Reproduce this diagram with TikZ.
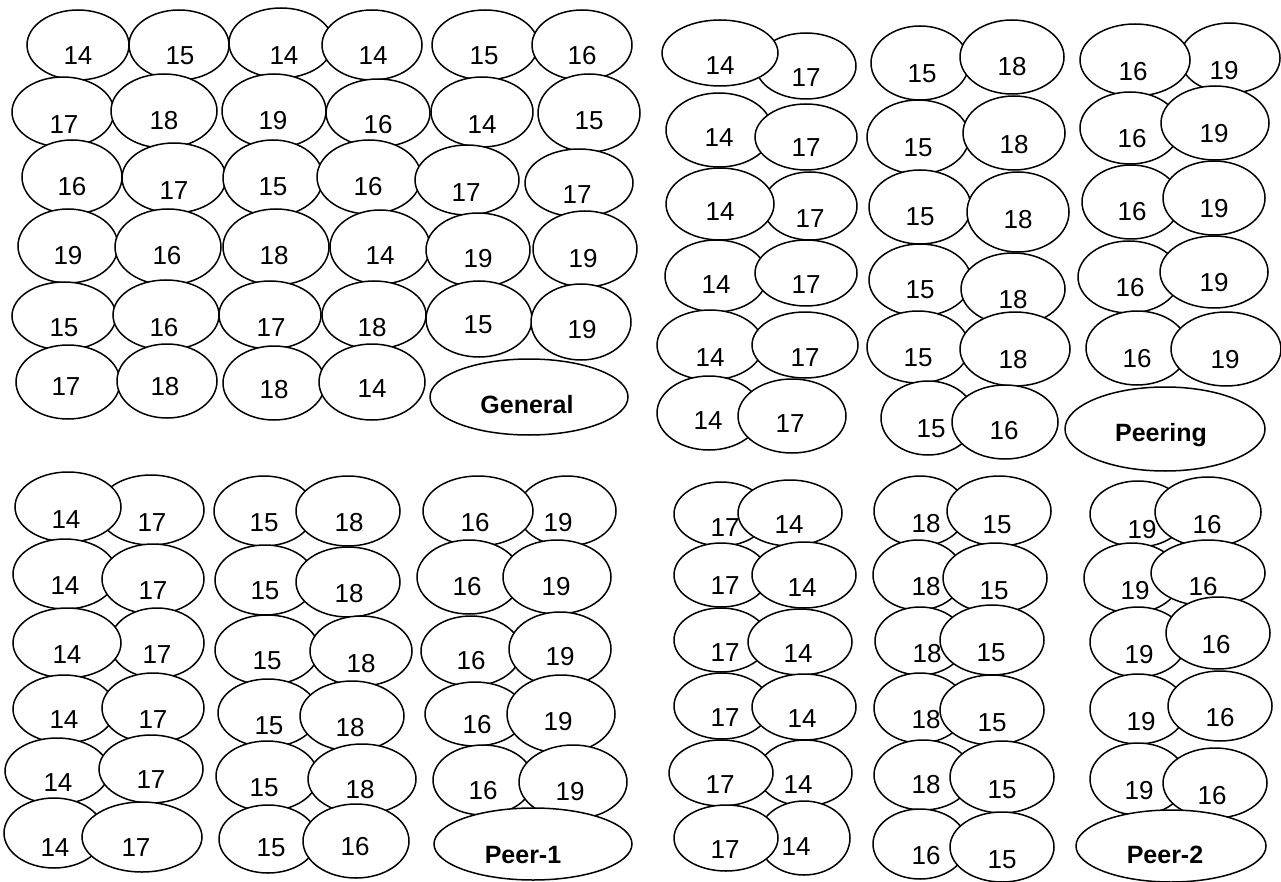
\documentclass[tikz,border=0pt]{standalone}
\usepackage{fontspec}
\setmainfont{Liberation Sans}
\usetikzlibrary{shapes.geometric}
\newfontfamily\numfam{Liberation Sans}
\newcommand\numfont{\numfam\fontsize{26}{26}\selectfont}
\newcommand\labfont{\numfam\bfseries\fontsize{25}{25}\selectfont}
\tikzset{
  ell/.style={draw, ellipse, fill=white, line width=1.5pt, inner sep=0pt},
  num/.style={font=\numfont, inner sep=0pt},
  lab/.style={font=\labfont, inner sep=0pt}
}
% \E{name}{cx}{cy}{rx}{ry}{tx}{ty}{text}
\newcommand\E[8]{%
  \node[ell, minimum width=#4*2pt, minimum height=#5*2pt] (#1) at (#2,#3) {};
  \node[num] (#1t) at (#6,#7) {#8};
}
\newcommand\Lab[8]{%
  \node[ell, minimum width=#4*2pt, minimum height=#5*2pt] (#1) at (#2,#3) {};
  \node[lab] (#1t) at (#6,#7) {#8};
}
\begin{document}
\begin{tikzpicture}[x=1pt,y=-1pt]
\path[fill=white] (0,0) rectangle (1281,882);
\useasboundingbox (0,0) rectangle (1281,882);
% ---------------- General (top-left)
\E{g11}{78}{45}{51}{35}{78}{56}{14}
\E{g12}{179}{45}{50}{35}{180}{56}{15}
\E{g13}{281}{43}{52}{35}{284}{56}{14}
\E{g14}{372}{45}{50}{35}{373}{56}{14}
\E{g15}{485}{45}{53}{35}{484}{56}{15}
\E{g16}{582}{45}{50}{35}{582}{56}{16}
\E{g21}{63}{112}{51}{35}{64}{125}{17}
\E{g22}{164}{111}{53}{37}{164}{121}{18}
\E{g23}{274}{111}{52}{37}{273}{121}{19}
\E{g24}{378}{113}{52}{34}{378}{125}{16}
\E{g25}{482}{112}{51}{35}{482}{125}{14}
\E{g26}{589}{113}{51}{39}{589}{121}{15}
\E{g31}{72}{177}{50}{37}{72}{187}{16}
\E{g32}{174}{178}{52}{35}{174}{191}{17}
\E{g33}{273}{178}{50}{38}{273}{187}{15}
\E{g34}{369}{177}{52}{37}{368}{187}{16}
\E{g35}{467}{180}{52}{35}{466}{193}{17}
\E{g36}{579}{183}{54}{34}{577}{195}{17}
\E{g41}{68}{246}{50}{37}{68}{256}{19}
\E{g42}{168}{247}{53}{38}{167}{256}{16}
\E{g43}{276}{247}{53}{38}{274}{256}{18}
\E{g44}{380}{247}{50}{37}{380}{256}{14}
\E{g45}{478}{250}{52}{37}{478}{259}{19}
\E{g46}{585}{249}{52}{38}{583}{259}{19}
\E{g51}{64}{316}{52}{34}{64}{328}{15}
\E{g52}{166}{315}{53}{35}{164}{328}{16}
\E{g53}{270}{315}{51}{34}{271}{328}{17}
\E{g54}{374}{315}{52}{34}{372}{328}{18}
\E{g55}{479}{319}{53}{38}{478}{325}{15}
\E{g56}{581}{322}{50}{38}{582}{330}{19}
\E{g61}{68}{382}{52}{37}{66}{387}{17}
\E{g62}{167}{381}{50}{37}{165}{387}{18}
\E{g63}{274}{383}{51}{37}{274}{390}{18}
\E{g64}{372}{382}{53}{38}{372}{389}{14}
\Lab{gen}{529}{397}{99}{38}{527}{405}{General}
% ---------------- Peering (top-right)
\E{p11b}{806}{66}{50}{33}{806}{78}{17}
\E{p11a}{720}{53}{58}{33}{720}{66}{14}
\E{p21a}{719}{130}{53}{37}{719}{138}{14}
\E{p21b}{806}{137}{51}{33}{806}{148}{17}
\E{p31b}{810}{206}{47}{34}{810}{219}{17}
\E{p31a}{720}{204}{54}{36}{720}{212}{14}
\E{p41a}{716}{276}{51}{36}{716}{285}{14}
\E{p41b}{806}{273}{51}{33}{806}{285}{17}
\E{p51a}{710}{345}{53}{35}{710}{358}{14}
\E{p51b}{805}{345}{53}{33}{805}{358}{17}
\E{p61a}{709}{413}{52}{37}{708}{421}{14}
\E{p61b}{792}{416}{54}{37}{790}{424}{17}
\E{p12a}{920}{63}{49}{37}{922}{74}{15}
\E{p12b}{1012}{57}{52}{37}{1012}{67}{18}
\E{p22a}{918}{137}{51}{37}{918}{148}{15}
\E{p22b}{1014}{133}{51}{37}{1014}{145}{18}
\E{p32a}{920}{207}{51}{37}{920}{217}{15}
\E{p32b}{1018}{212}{51}{40}{1018}{220}{18}
\E{p42a}{920}{280}{51}{36}{920}{290}{15}
\E{p42b}{1013}{289}{52}{36}{1013}{300}{18}
\E{p52a}{918}{347}{51}{36}{918}{358}{15}
\E{p52b}{1015}{349}{55}{37}{1013}{360}{18}
\E{p62a}{928}{418}{47}{37}{931}{429}{15}
\E{p62b}{1005}{422}{53}{37}{1004}{431}{16}
\E{p13b}{1230}{58}{50}{35}{1224}{71}{19}
\E{p13a}{1135}{60}{55}{36}{1133}{72}{16}
\E{p23a}{1130}{128}{50}{36}{1132}{139}{16}
\E{p23b}{1215}{123}{54}{37}{1214}{134}{19}
\E{p33a}{1131}{202}{49}{37}{1132}{212}{16}
\E{p33b}{1214}{198}{51}{37}{1214}{209}{19}
\E{p43a}{1129}{277}{51}{36}{1130}{288}{16}
\E{p43b}{1214}{272}{54}{36}{1214}{283}{19}
\E{p53a}{1137}{348}{51}{37}{1137}{359}{16}
\E{p53b}{1226}{349}{55}{37}{1225}{360}{19}
\Lab{peering}{1165}{429}{100}{42}{1161}{435}{Peering}
% ---------------- Peer-1 (bottom-left)
\E{a11b}{151}{510}{53}{35}{152}{523}{17}
\E{a11a}{68}{507}{53}{35}{66}{520}{14}
\E{a21a}{65}{574}{52}{35}{65}{586}{14}
\E{a21b}{153}{579}{51}{35}{153}{591}{17}
\E{a31b}{157}{643}{47}{35}{157}{655}{17}
\E{a31a}{67}{643}{54}{35}{67}{655}{14}
\E{a41a}{64}{709}{51}{34}{64}{720}{14}
\E{a41b}{153}{708}{51}{35}{153}{720}{17}
\E{a51a}{57}{771}{52}{33}{58}{783}{14}
\E{a51b}{151}{769}{52}{34}{151}{780}{17}
\E{a61a}{54}{833}{50}{35}{55}{848}{14}
\E{a61b}{142}{837}{60}{35}{136}{848}{17}
\E{a12a}{264}{511}{50}{35}{264}{523}{15}
\E{a12b}{348}{511}{52}{35}{349}{523}{18}
\E{a22a}{265}{580}{50}{35}{265}{591}{15}
\E{a22b}{348}{582}{52}{35}{349}{594}{18}
\E{a32a}{267}{650}{52}{35}{267}{661}{15}
\E{a32b}{361}{651}{51}{35}{361}{664}{18}
\E{a42a}{268}{713}{50}{34}{269}{726}{15}
\E{a42b}{352}{716}{52}{35}{350}{728}{18}
\E{a52a}{267}{776}{51}{35}{264}{788}{15}
\E{a52b}{362}{779}{54}{35}{360}{790}{18}
\E{a62a}{268}{839}{49}{34}{271}{848}{15}
\E{a62b}{356}{841}{53}{37}{355}{847}{16}
\E{a13b}{567}{511}{49}{35}{558}{523}{19}
\E{a13a}{478}{511}{55}{35}{475}{523}{16}
\E{a23a}{469}{577}{52}{37}{467}{587}{16}
\E{a23b}{557}{577}{54}{37}{556}{587}{19}
\E{a33a}{471}{651}{50}{35}{471}{661}{16}
\E{a33b}{560}{649}{51}{37}{560}{657}{19}
\E{a43a}{475}{714}{50}{32}{477}{725}{16}
\E{a43b}{561}{714}{54}{39}{558}{722}{19}
\E{a53a}{483}{780}{50}{35}{483}{791}{16}
\E{a53b}{573}{782}{54}{37}{570}{792}{19}
\Lab{peer1}{533}{844}{99}{36}{523}{855}{Peer-1}
% ---------------- Peer-2 (bottom-right)
\E{c11a}{721}{514}{47}{32}{725}{528}{17}
\E{c11b}{790}{513}{52}{33}{789}{525}{14}
\E{c21a}{721}{575}{47}{32}{725}{586}{17}
\E{c21b}{804}{575}{52}{33}{802}{588}{14}
\E{c31a}{721}{640}{47}{32}{725}{653}{17}
\E{c31b}{800}{642}{52}{33}{798}{654}{14}
\E{c41a}{722}{706}{48}{33}{725}{718}{17}
\E{c41b}{804}{707}{52}{33}{802}{719}{14}
\E{c51b}{805}{773}{47}{33}{798}{785}{14}
\E{c51a}{721}{773}{52}{33}{720}{785}{17}
\E{c61b}{804}{838}{46}{37}{796}{847}{14}
\E{c61a}{726}{838}{52}{33}{725}{850}{17}
\E{c12a}{920}{511}{46}{35}{926}{524}{18}
\E{c12b}{999}{511}{52}{35}{997}{525}{15}
\E{c22a}{918}{575}{45}{35}{926}{587}{18}
\E{c22b}{995}{578}{52}{35}{994}{591}{15}
\E{c32a}{920}{641}{45}{34}{927}{654}{18}
\E{c32b}{992}{640}{52}{35}{991}{653}{15}
\E{c42a}{920}{708}{46}{35}{926}{720}{18}
\E{c42b}{992}{710}{52}{35}{992}{723}{15}
\E{c52a}{923}{775}{49}{35}{926}{785}{18}
\E{c52b}{1002}{777}{52}{36}{1002}{790}{15}
\E{c62a}{920}{844}{47}{35}{926}{856}{16}
\E{c62b}{1002}{847}{52}{35}{1002}{860}{15}
\E{c13a}{1138}{514}{48}{33}{1142}{530}{19}
\E{c13b}{1208}{512}{53}{35}{1207}{525}{16}
\E{c23a}{1132}{578}{48}{35}{1135}{591}{19}
\E{c23b}{1208}{573}{57}{33}{1203}{587}{16}
\E{c33a}{1138}{642}{48}{35}{1139}{655}{19}
\E{c33b}{1218}{633}{52}{36}{1216}{645}{16}
\E{c43a}{1138}{709}{48}{35}{1141}{722}{19}
\E{c43b}{1220}{706}{52}{35}{1220}{718}{16}
\E{c53a}{1138}{779}{48}{36}{1139}{791}{19}
\E{c53b}{1215}{783}{52}{35}{1212}{796}{16}
\Lab{peer2}{1171}{846}{95}{36}{1165}{855}{Peer-2}
\end{tikzpicture}
\end{document}
